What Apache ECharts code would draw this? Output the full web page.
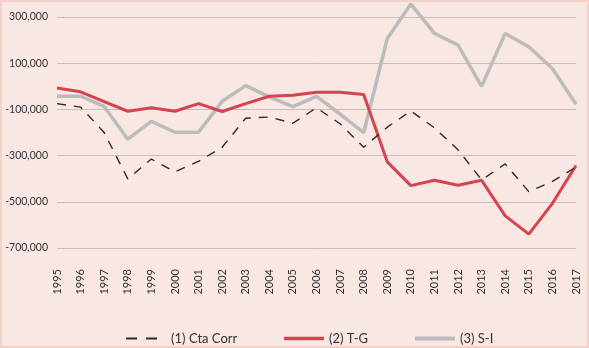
<!DOCTYPE html>
<html>
<head>
<meta charset="utf-8">
<script src="https://cdn.jsdelivr.net/npm/echarts@6/dist/echarts.min.js"></script>
<style>
  html, body { margin: 0; padding: 0; background: #f9e7e4; }
  #chart { width: 589px; height: 348px; box-sizing: border-box; border: 2px solid #f3d0c8; }
</style>
</head>
<body>
<div id="chart"></div>
<script>
// years on the x axis
const years = ['1995', '1996', '1997', '1998', '1999', '2000', '2001', '2002', '2003', '2004', '2005', '2006',
  '2007', '2008', '2009', '2010', '2011', '2012', '2013', '2014', '2015', '2016', '2017'];

// (1) Cta Corr
const ctaCorr = [-75000, -90000, -200000, -401000, -315000, -370000, -325000, -264000, -138000, -133000, -160000, -93000,
  -162000, -264000, -177000, -107000, -180000, -275000, -405000, -336000, -456000, -412000, -350000];
// (2) T-G
const tMinusG = [-7000, -24000, -66000, -108000, -93000, -108000, -75000, -109000, -75000, -43000, -39000, -26000,
  -26000, -36000, -327000, -430000, -407000, -428000, -407000, -561000, -640000, -507000, -343000];
// (3) S-I
const sMinusI = [-43000, -43000, -87000, -229000, -152000, -199000, -199000, -65000, 3000, -46000, -88000, -44000,
  -120000, -201000, 207000, 356000, 229000, 178000, 0, 229000, 171000, 77000, -78000];

const seriesNames = ['(1) Cta Corr', '(2) T-G', '(3) S-I'];

const myChart = echarts.init(document.getElementById('chart'));
const font = 'Lato, "Open Sans", sans-serif';

const option = {
  animation: false,
  backgroundColor: '#f9e7e4',
  textStyle: { fontFamily: font },
  grid: { left: 55, right: 11, top: 15, bottom: 98 },
  legend: {
    data: [
      { name: seriesNames[0], lineStyle: { type: [11, 9], width: 2.2 } },
      { name: seriesNames[1], lineStyle: { width: 3.5 } },
      { name: seriesNames[2], lineStyle: { width: 4 } },
    ],
    left: 118,
    top: 325,
    itemWidth: 40,
    itemHeight: 12,
    itemGap: 45,
    itemStyle: { opacity: 0 },
    textStyle: { color: '#333', fontSize: 13, fontFamily: font },
  },
  xAxis: {
    type: 'category',
    data: years,
    boundaryGap: false,
    axisLine: { show: false },
    axisTick: { show: false },
    axisLabel: { rotate: 90, margin: 21, color: '#333', fontSize: 11, fontFamily: font, interval: 0 },
  },
  yAxis: {
    type: 'value',
    min: -700000,
    max: 300000,
    interval: 200000,
    axisLine: { show: false },
    axisTick: { show: false },
    axisLabel: {
      margin: 9,
      color: '#333',
      fontSize: 10.5,
      fontFamily: font,
      formatter: (v) => v.toLocaleString('en-US'),
    },
    splitLine: { lineStyle: { color: '#c6bcb9', width: 1 } },
  },
  series: [
    {
      name: seriesNames[0],
      type: 'line',
      data: ctaCorr,
      symbol: 'none',
      clip: false,
      z: 4,
      lineStyle: { color: '#2b2b2b', width: 1.4, type: [9, 8] },
      itemStyle: { color: '#2b2b2b' },
    },
    {
      name: seriesNames[1],
      type: 'line',
      data: tMinusG,
      symbol: 'none',
      clip: false,
      z: 3,
      lineStyle: { color: '#d6434f', width: 3 },
      itemStyle: { color: '#d6434f' },
    },
    {
      name: seriesNames[2],
      type: 'line',
      data: sMinusI,
      symbol: 'none',
      clip: false,
      z: 2,
      lineStyle: { color: '#bcbcbc', width: 3.5 },
      itemStyle: { color: '#bcbcbc' },
    },
  ],
};

myChart.setOption(option);
</script>
</body>
</html>
